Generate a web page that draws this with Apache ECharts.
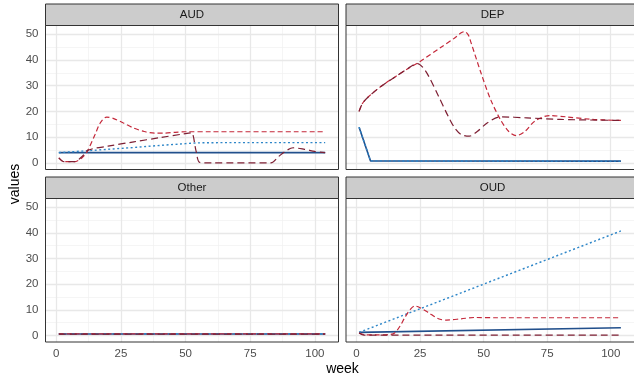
<!DOCTYPE html>
<html>
<head>
<meta charset="utf-8">
<script src="https://cdn.jsdelivr.net/npm/echarts@6/dist/echarts.min.js"></script>
<style>
  html, body { margin: 0; padding: 0; background: #ffffff; }
  #chart { width: 634px; height: 378px; }
</style>
</head>
<body>
<div id="chart"></div>
<script>
// Facet names and axis ticks
const panels = ['AUD', 'DEP', 'Other', 'OUD'];
const xTicks = [0, 25, 50, 75, 100];
const xMinor = [12.5, 37.5, 62.5, 87.5];
const yTicks = [0, 10, 20, 30, 40, 50];
const yMinor = [5, 15, 25, 35, 45];

// AUD: [week, value]
const audNavy = [[1, 4.0], [104, 4.0]];
const audBlue = [[1, 4.0], [10, 4.6], [20, 5.3], [30, 6.0], [40, 6.8], [50, 7.5], [55, 7.8], [65, 7.9], [104, 7.9]];
const audRed = [[1, 2.0], [3, 0.5], [7, 0.5], [10, 2.0], [12, 4.5], [15, 11], [17, 15.5], [19.5, 17.8], [22, 17.3],
  [26, 15.5], [30, 13.5], [34, 12.2], [38, 11.6], [42, 11.6], [46, 11.9], [50, 12.1], [60, 12.1], [104, 12.1]];
const audMaroon = [[1, 2.0], [3, 0.5], [7, 0.5], [10, 2.5], [12.4, 5.0], [20, 6.5], [30, 8.2], [40, 9.8], [50, 11.4],
  [52.3, 11.7], [54, 5.0], [55.5, 0.2], [60, 0], [83, 0], [86, 2.5], [89, 4.8], [91.6, 5.9], [96, 5.3], [100, 4.5], [104, 4.0]];

// DEP
const depNavy = [[1, 13.9], [5.5, 0.8], [104, 0.7]];
const depBlue = [[1, 13.9], [5.5, 0.8], [104, 0.7]];
const depRed = [[1, 20], [2, 22.5], [3, 24], [5, 26], [10, 30], [15, 33.3], [20, 36.5], [24.4, 39], [33.4, 45],
  [38.6, 48.5], [41, 50.4], [42.5, 51], [44, 49.6], [45, 46.8], [48.9, 35.1], [52.7, 24.7], [56.6, 16.8],
  [59.8, 12.3], [62.8, 10.6], [66.3, 12.3], [70.1, 16.2], [75.9, 18.4], [82.4, 17.9], [92.7, 16.9], [104, 16.5]];
const depMaroon = [[1, 20], [2, 22.5], [3, 24], [5, 26], [10, 30], [15, 33.3], [20, 36.5], [23.8, 38.6], [26, 37.2],
  [28.3, 33.8], [32.2, 26], [36, 18.2], [38.6, 13.6], [41.2, 11], [44.4, 10.4], [47.6, 12.3], [51.5, 15.6],
  [56.6, 17.9], [67, 17.5], [80, 16.9], [104, 16.5]];

// Other
const otherNavy = [[1, 0.6], [104, 0.6]];
const otherBlue = [[1, 0.7], [104, 0.7]];
const otherRed = [[1, 0.6], [104, 0.6]];
const otherMaroon = [[1, 0.5], [104, 0.5]];

// OUD
const oudNavy = [[1, 1.2], [104, 3.0]];
const oudBlue = [[1, 1.2], [104, 40.7]];
const oudRed = [[1, 1.0], [3, 0.3], [8, 0.2], [13, 0.4], [15, 1.0], [17, 3.5], [19, 7], [21, 10], [22.9, 11.5],
  [25, 10.8], [28.3, 8.9], [32.2, 6.5], [35.4, 6.0], [41.2, 6.5], [46.3, 7.0], [55, 6.9], [104, 6.9]];
const oudMaroon = [[1, 1.0], [3, 0.1], [104, 0.1]];

const panelData = [
  [audNavy, audBlue, audRed, audMaroon],
  [depNavy, depBlue, depRed, depMaroon],
  [otherNavy, otherBlue, otherRed, otherMaroon],
  [oudNavy, oudBlue, oudRed, oudMaroon]
];

// Line looks, in the order navy, blue, red, maroon
const lineLooks = [
  { color: '#22508C', width: 1.6, type: 'solid', smooth: false },
  { color: '#2E86C8', width: 1.4, type: [2, 2.5], smooth: false },
  { color: '#C4283A', width: 1.2, type: [5, 3], smooth: 0.3 },
  { color: '#7D1F33', width: 1.2, type: [7, 4], smooth: 0.3 }
];

// Panel boxes (px)
const boxes = [
  { left: 45.5, top: 25.5, width: 293, height: 144 },
  { left: 346, top: 25.5, width: 293, height: 144 },
  { left: 45.5, top: 198.5, width: 293, height: 143.5 },
  { left: 346, top: 198.5, width: 293, height: 143.5 }
];
const stripH = 21.5;
const FONT = '"Liberation Sans", Arial, Helvetica, sans-serif';
const X_MIN = -4.15, X_MAX = 109.15, Y_MIN = -2.54, Y_MAX = 53.34;

const grids = boxes.map(b => ({ left: b.left, top: b.top, width: b.width, height: b.height,
  show: true, backgroundColor: '#ffffff', borderWidth: 0 }));

const xAxes = boxes.map((b, i) => {
  const bottom = i >= 2;
  return {
    type: 'value', gridIndex: i, min: X_MIN, max: X_MAX,
    axisLine: { show: false },
    axisTick: { show: bottom, customValues: xTicks, length: 4, lineStyle: { color: '#333333', width: 1 } },
    axisLabel: { show: bottom, customValues: xTicks, margin: 6, color: '#4D4D4D', fontSize: 11.5, fontFamily: FONT },
    splitLine: { show: false }
  };
});

const yAxes = boxes.map((b, i) => {
  const leftCol = i % 2 === 0;
  return {
    type: 'value', gridIndex: i, min: Y_MIN, max: Y_MAX,
    axisLine: { show: false },
    axisTick: { show: leftCol, customValues: yTicks, length: 4, lineStyle: { color: '#333333', width: 1 } },
    axisLabel: { show: leftCol, customValues: yTicks, margin: 7, color: '#4D4D4D', fontSize: 11.5, fontFamily: FONT },
    splitLine: { show: false }
  };
});

const series = [];
panels.forEach((name, i) => {
  // background grid lines of the panel
  const major = { color: '#E8E8E8', width: 1.3, type: 'solid' };
  const minor = { color: '#F0F0F0', width: 0.7, type: 'solid' };
  series.push({
    type: 'line', name: name + '-grid', xAxisIndex: i, yAxisIndex: i, data: [], silent: true, z: 1,
    markLine: {
      silent: true, z: 1, symbol: ['none', 'none'], animation: false, label: { show: false },
      emphasis: { disabled: true },
      data: [
        ...xMinor.map(v => ({ xAxis: v, lineStyle: minor })),
        ...yMinor.map(v => ({ yAxis: v, lineStyle: minor })),
        ...xTicks.map(v => ({ xAxis: v, lineStyle: major })),
        ...yTicks.map(v => ({ yAxis: v, lineStyle: major }))
      ]
    }
  });
  panelData[i].forEach((pts, k) => {
    const look = lineLooks[k];
    series.push({
      type: 'line', name: name + '-' + k, xAxisIndex: i, yAxisIndex: i, data: pts,
      showSymbol: false, symbol: 'none', smooth: look.smooth, z: 3, silent: true, animation: false,
      lineStyle: { color: look.color, width: look.width, type: look.type, cap: 'butt' }
    });
  });
});

// Strips, panel borders and axis titles
const graphics = [];
boxes.forEach((b, i) => {
  graphics.push({
    type: 'rect', z: 50, silent: true,
    shape: { x: b.left, y: b.top - stripH, width: b.width, height: stripH },
    style: { fill: '#CCCCCC', stroke: '#333333', lineWidth: 1 }
  });
  graphics.push({
    type: 'text', z: 51, silent: true,
    style: { text: panels[i], x: b.left + b.width / 2, y: b.top - stripH / 2 + 0.5,
      textAlign: 'center', textVerticalAlign: 'middle', align: 'center', verticalAlign: 'middle',
      font: '11.5px ' + FONT, fill: '#1A1A1A' }
  });
  graphics.push({
    type: 'rect', z: 50, silent: true,
    shape: { x: b.left, y: b.top, width: b.width, height: b.height },
    style: { fill: null, stroke: '#333333', lineWidth: 1 }
  });
});
graphics.push({
  type: 'text', z: 51, silent: true,
  style: { text: 'week', x: 342.5, y: 369.5, textAlign: 'center', textVerticalAlign: 'middle',
    align: 'center', verticalAlign: 'middle', font: '14px ' + FONT, fill: '#000000' }
});
graphics.push({
  type: 'text', z: 51, silent: true, x: 15.5, y: 184, rotation: Math.PI / 2,
  style: { text: 'values', x: 0, y: 0, textAlign: 'center', textVerticalAlign: 'middle',
    align: 'center', verticalAlign: 'middle', font: '14px ' + FONT, fill: '#000000' }
});

const chart = echarts.init(document.getElementById('chart'), null, { renderer: 'canvas' });
chart.setOption({
  backgroundColor: '#ffffff',
  animation: false,
  grid: grids,
  xAxis: xAxes,
  yAxis: yAxes,
  series: series,
  graphic: { elements: graphics }
});
</script>
</body>
</html>
